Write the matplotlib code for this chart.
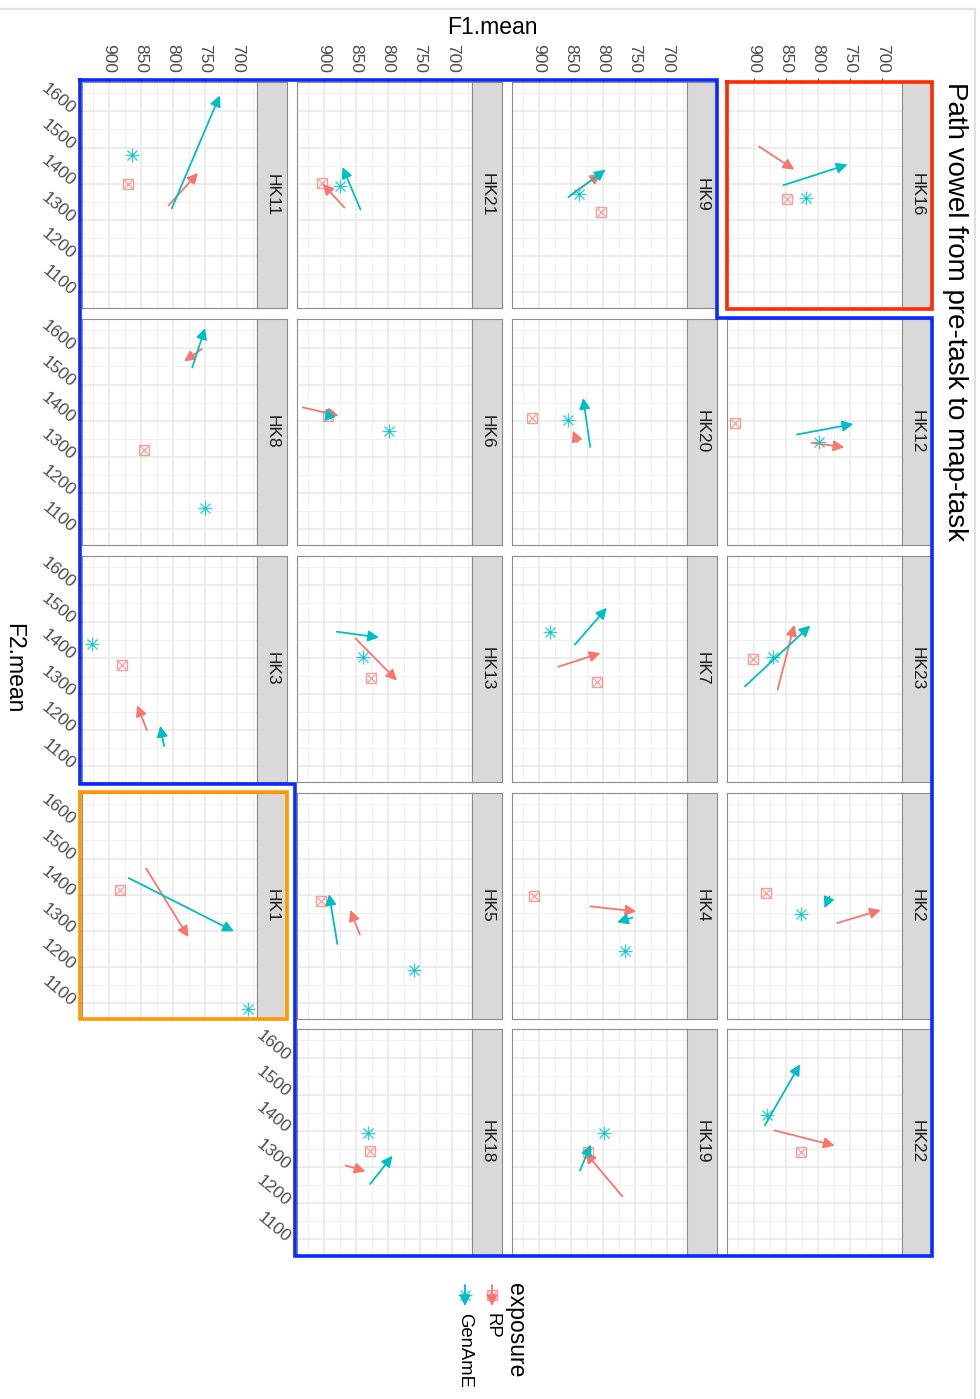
"""Vowel path facets (pre-task -> map-task), drawn in the rotated layout of the reference."""
import matplotlib
matplotlib.use("Agg")
import matplotlib.pyplot as plt

plt.rcParams['font.family'] = ['Liberation Sans', 'DejaVu Sans']

# ---- data, in facet order ----
speakers = ["HK16", "HK12", "HK23", "HK2", "HK22",
            "HK9", "HK20", "HK7", "HK4", "HK19",
            "HK21", "HK6", "HK13", "HK5", "HK18",
            "HK11", "HK8", "HK3", "HK1"]

# point markers (F1, F2)
rp_pt_f1 = [848, 929, 901, 881, 827, 803, 911, 810, 907, 824, 903, 894, 827, 905, 828, 871, 846, 880, 883]
rp_pt_f2 = [1359, 1394, 1396, 1406, 1341, 1323, 1409, 1333, 1397, 1341, 1403, 1414, 1344, 1383, 1345, 1400, 1319, 1381, 1414]
ga_pt_f1 = [819, 799, 870, 827, 879, 838, 854, 883, 765, 799, 875, 798, 839, 759, 832, 864, 750, 926, 683]
ga_pt_f2 = [1361, 1342, 1402, 1347, 1444, 1372, 1403, 1470, 1244, 1394, 1395, 1373, 1402, 1191, 1394, 1479, 1158, 1437, 1085]

# path: pre-task -> map-task
rp_pre_f1 = [892, 810, 863, 770, 868, 850, 840, 870, 820, 770, 868, 933, 851, 844, 866, 807, 755, 841, 842]
rp_pre_f2 = [1503, 1339, 1312, 1322, 1401, 1370, 1341, 1375, 1368, 1219, 1334, 1437, 1454, 1290, 1304, 1340, 1598, 1201, 1473]
rp_map_f1 = [837, 759, 837, 702, 774, 803, 847, 804, 748, 828, 902, 877, 786, 859, 835, 761, 783, 856, 776]
rp_map_f2 = [1439, 1327, 1491, 1358, 1359, 1428, 1373, 1413, 1354, 1341, 1400, 1414, 1337, 1358, 1288, 1430, 1564, 1269, 1283]
ga_pre_f1 = [854, 833, 914, 782, 883, 854, 820, 844, 754, 836, 843, 892, 880, 879, 828, 802, 770, 814, 869]
ga_pre_f2 = [1396, 1362, 1321, 1395, 1415, 1363, 1328, 1436, 1337, 1290, 1329, 1412, 1472, 1264, 1253, 1332, 1547, 1156, 1446]
ga_map_f1 = [754, 745, 812, 790, 828, 796, 831, 794, 778, 819, 871, 897, 814, 892, 793, 727, 750, 820, 705]
ga_map_f2 = [1453, 1391, 1489, 1363, 1584, 1439, 1463, 1538, 1324, 1362, 1446, 1435, 1456, 1402, 1331, 1644, 1656, 1212, 1299]

f1_ticks = [700, 750, 800, 850, 900]
f2_ticks = [1100, 1200, 1300, 1400, 1500, 1600]

RP_COL = "#F8766D"
GA_COL = "#00BFC4"

W, H = 980, 1399
fig = plt.figure(figsize=(W / 100, H / 100), dpi=100)
fig.patch.set_facecolor("white")


def rect(x, y, w, h):
    return [x / W, 1 - (y + h) / H, w / W, h / H]


col_left = [82, 297, 512, 727]
row_top = [82, 319, 556, 793, 1029]
PW, PH, SW = 175, 226, 30


def draw_points(ax, f1, f2, kind, col):
    if kind == "ga":
        ax.plot(f1, f2, ls="none", marker="+", ms=10, mew=1.0, color=col, alpha=0.75, zorder=3)
        ax.plot(f1, f2, ls="none", marker="x", ms=7, mew=1.0, color=col, alpha=0.75, zorder=3)
    else:
        ax.plot(f1, f2, ls="none", marker="s", ms=7.5, mew=1.0, mfc="none", color=col, alpha=0.7, zorder=3)
        ax.plot(f1, f2, ls="none", marker="x", ms=6.3, mew=0.9, color=col, alpha=0.7, zorder=3)


def draw_arrow(ax, x0, y0, x1, y1, col):
    ax.annotate("", xy=(x1, y1), xytext=(x0, y0), annotation_clip=False,
                arrowprops=dict(arrowstyle="-|>", color=col, lw=1.3,
                                mutation_scale=16, shrinkA=0, shrinkB=0), zorder=4)


for i, spk in enumerate(speakers):
    r, c = divmod(i, 5)
    ic, ir = 3 - r, c
    x0, y0 = col_left[ic], row_top[ir]
    ax = fig.add_axes(rect(x0, y0, PW, PH))
    ax.set_xlim(942, 669)
    ax.set_ylim(1057, 1681)
    ax.set_xticks(f1_ticks)
    ax.set_xticks([675, 725, 775, 825, 875, 925], minor=True)
    ax.set_yticks(f2_ticks)
    ax.set_yticks([1150, 1250, 1350, 1450, 1550, 1650], minor=True)
    ax.grid(which="major", color="#E8E8E8", lw=1.1)
    ax.grid(which="minor", color="#EFEFEF", lw=0.7)
    ax.set_axisbelow(True)
    for s in ax.spines.values():
        s.set_color("#8C8C8C")
        s.set_linewidth(0.8)
    ax.tick_params(which="minor", length=0)
    ax.tick_params(which="major", length=3, width=0.8, color="#333333", labelcolor="#4D4D4D")

    # F1 labels across the top row only
    ax.xaxis.set_ticks_position("top")
    if ir == 0:
        ax.set_xticklabels([str(t) for t in f1_ticks], rotation=270, fontsize=12.5,
                           ha="center", va="bottom")
    else:
        ax.tick_params(axis="x", length=0, labeltop=False)
    # F2 labels on the outer side
    if ic == 0 or spk == "HK18":
        ax.set_yticklabels([str(t) for t in f2_ticks], fontsize=12.5)
        for lab in ax.get_yticklabels():
            lab.set_rotation(-40)
            lab.set_rotation_mode("anchor")
            lab.set_ha("right")
            lab.set_va("center")
    else:
        ax.tick_params(axis="y", length=0, labelleft=False)

    draw_points(ax, rp_pt_f1[i], rp_pt_f2[i], "rp", RP_COL)
    draw_points(ax, ga_pt_f1[i], ga_pt_f2[i], "ga", GA_COL)
    draw_arrow(ax, rp_pre_f1[i], rp_pre_f2[i], rp_map_f1[i], rp_map_f2[i], RP_COL)
    draw_arrow(ax, ga_pre_f1[i], ga_pre_f2[i], ga_map_f1[i], ga_map_f2[i], GA_COL)

    # strip
    sax = fig.add_axes(rect(x0 + PW, y0, SW, PH))
    sax.set_facecolor("#D9D9D9")
    sax.set_xticks([])
    sax.set_yticks([])
    for s in sax.spines.values():
        s.set_color("#8C8C8C")
        s.set_linewidth(0.8)
    sax.text(0.5, 0.5, spk, rotation=270, ha="center", va="center", fontsize=12.5,
             color="#1A1A1A", transform=sax.transAxes)

# overlay in pixel coordinates: titles, legend, hand-drawn boxes
ov = fig.add_axes([0, 0, 1, 1], zorder=10)
ov.set_xlim(0, W)
ov.set_ylim(H, 0)
ov.axis("off")
ov.patch.set_visible(False)

ov.text(955, 82, "Path vowel from pre-task to map-task", rotation=270, ha="center", va="top",
        fontsize=20, color="black")
ov.text(492, 27, "F1.mean", ha="center", va="center", fontsize=16.5, color="black")
ov.text(14, 668, "F2.mean", rotation=270, ha="center", va="center", fontsize=16.5, color="black")

# legend
ov.text(515, 1283, "exposure", rotation=270, ha="center", va="top", fontsize=16.5)
for lx, lab, col, kind in [(492, "RP", RP_COL, "rp"), (465, "GenAmE", GA_COL, "ga")]:
    ov.annotate("", xy=(lx, 1306), xytext=(lx, 1285),
                arrowprops=dict(arrowstyle="-|>", color=col, lw=1.3, mutation_scale=16,
                                shrinkA=0, shrinkB=0))
    draw_points(ov, lx, 1295, kind, col)
    ov.text(lx, 1313, lab, rotation=270, ha="center", va="top", fontsize=13.3)

# screenshot frame
ov.plot([0, 975], [9, 9], color="#E0E0E0", lw=1.5)
ov.plot([975, 975], [9, H], color="#E0E0E0", lw=1.5)

# highlight boxes
ov.plot([727, 932, 932, 727, 727], [82, 82, 309, 309, 82], color="#FF2A00", lw=2.6, solid_joinstyle="miter")
ov.plot([80, 287, 287, 80, 80], [792, 792, 1019, 1019, 792], color="#FF9900", lw=2.6, solid_joinstyle="miter")
ov.plot([80, 717, 717, 932, 932, 295, 295, 80, 80],
        [80, 80, 318, 318, 1256, 1256, 784, 784, 80], color="#0A2AFF", lw=2.6, solid_joinstyle="miter")

fig.savefig("out.png", dpi=100)
